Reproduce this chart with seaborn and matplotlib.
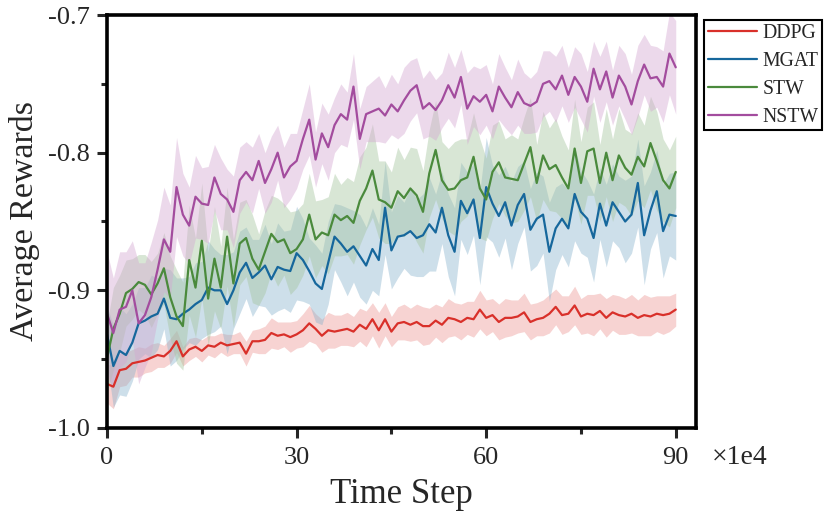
import numpy as np
import pandas as pd
import matplotlib
matplotlib.use('Agg')
import matplotlib.pyplot as plt
import seaborn as sns
from matplotlib.ticker import MultipleLocator

# time step in units of 1e4, one point per 1e4 steps
steps = np.arange(0, 91)

ddpg = [-0.968, -0.970, -0.958, -0.957, -0.953, -0.952, -0.951, -0.949, -0.947, -0.948, -0.944,
        -0.937, -0.948, -0.943, -0.941, -0.944, -0.940, -0.941, -0.938, -0.940, -0.939,
        -0.938, -0.946, -0.937, -0.937, -0.936, -0.931, -0.933, -0.932, -0.934, -0.932,
        -0.929, -0.924, -0.928, -0.933, -0.929, -0.930, -0.929, -0.928, -0.930, -0.925,
        -0.928, -0.921, -0.929, -0.921, -0.930, -0.924, -0.923, -0.925, -0.923, -0.926,
        -0.926, -0.922, -0.925, -0.920, -0.921, -0.923, -0.920, -0.921, -0.914, -0.920,
        -0.918, -0.923, -0.920, -0.920, -0.919, -0.916, -0.923, -0.921, -0.920, -0.917,
        -0.912, -0.918, -0.917, -0.911, -0.919, -0.917, -0.918, -0.915, -0.920, -0.916,
        -0.918, -0.919, -0.917, -0.920, -0.918, -0.919, -0.917, -0.918, -0.917, -0.914]

mgat = [-0.932, -0.955, -0.944, -0.947, -0.938, -0.924, -0.922, -0.919, -0.917, -0.906, -0.920,
        -0.921, -0.917, -0.914, -0.910, -0.907, -0.898, -0.900, -0.900, -0.910, -0.900,
        -0.887, -0.880, -0.891, -0.887, -0.882, -0.892, -0.883, -0.885, -0.886, -0.873,
        -0.878, -0.886, -0.895, -0.899, -0.880, -0.861, -0.866, -0.872, -0.868, -0.875,
        -0.882, -0.870, -0.878, -0.840, -0.871, -0.861, -0.860, -0.857, -0.862, -0.860,
        -0.852, -0.858, -0.840, -0.860, -0.872, -0.835, -0.844, -0.834, -0.862, -0.825,
        -0.837, -0.846, -0.836, -0.853, -0.838, -0.830, -0.856, -0.848, -0.845, -0.872,
        -0.855, -0.848, -0.855, -0.830, -0.843, -0.848, -0.862, -0.837, -0.853, -0.836,
        -0.843, -0.850, -0.845, -0.822, -0.860, -0.842, -0.828, -0.857, -0.845, -0.846]

stw = [-0.949, -0.928, -0.917, -0.902, -0.899, -0.894, -0.896, -0.903, -0.895, -0.884, -0.905,
       -0.919, -0.926, -0.878, -0.898, -0.864, -0.906, -0.877, -0.898, -0.861, -0.895,
       -0.866, -0.862, -0.877, -0.885, -0.872, -0.859, -0.865, -0.863, -0.873, -0.870,
       -0.863, -0.845, -0.863, -0.858, -0.860, -0.845, -0.849, -0.846, -0.851, -0.835,
       -0.826, -0.813, -0.834, -0.836, -0.840, -0.828, -0.833, -0.826, -0.831, -0.843,
       -0.815, -0.798, -0.820, -0.827, -0.826, -0.820, -0.818, -0.803, -0.826, -0.834,
       -0.814, -0.807, -0.818, -0.819, -0.820, -0.808, -0.796, -0.822, -0.802, -0.812,
       -0.809, -0.818, -0.826, -0.797, -0.822, -0.799, -0.797, -0.822, -0.800, -0.820,
       -0.802, -0.811, -0.816, -0.803, -0.810, -0.793, -0.806, -0.820, -0.826, -0.814]

nstw = [-0.917, -0.931, -0.914, -0.912, -0.900, -0.924, -0.918, -0.905, -0.885, -0.863, -0.872,
        -0.825, -0.845, -0.853, -0.832, -0.837, -0.838, -0.818, -0.830, -0.834, -0.843,
        -0.820, -0.814, -0.820, -0.806, -0.822, -0.812, -0.800, -0.818, -0.810, -0.806,
        -0.790, -0.776, -0.805, -0.786, -0.796, -0.780, -0.772, -0.776, -0.752, -0.790,
        -0.772, -0.770, -0.768, -0.773, -0.765, -0.770, -0.762, -0.755, -0.751, -0.768,
        -0.764, -0.769, -0.762, -0.751, -0.760, -0.745, -0.768, -0.759, -0.763, -0.758,
        -0.770, -0.752, -0.760, -0.767, -0.756, -0.764, -0.766, -0.763, -0.750, -0.748,
        -0.754, -0.744, -0.758, -0.745, -0.752, -0.763, -0.739, -0.754, -0.741, -0.760,
        -0.744, -0.752, -0.765, -0.748, -0.736, -0.746, -0.745, -0.752, -0.728, -0.738]

# half width of the shaded band
ddpg_sd = [0.014, 0.016, 0.012, 0.012, 0.010, 0.011, 0.009, 0.010, 0.009, 0.008, 0.009,
           0.008, 0.007, 0.008, 0.007, 0.008, 0.007, 0.008, 0.007, 0.008, 0.007,
           0.008, 0.009, 0.008, 0.009, 0.010, 0.011, 0.010, 0.009, 0.011, 0.010,
           0.012, 0.013, 0.011, 0.012, 0.013, 0.012, 0.011, 0.012, 0.011, 0.012,
           0.013, 0.012, 0.013, 0.012, 0.011, 0.012, 0.013, 0.012, 0.013, 0.014,
           0.013, 0.012, 0.013, 0.014, 0.012, 0.013, 0.012, 0.013, 0.014, 0.013,
           0.012, 0.013, 0.014, 0.013, 0.012, 0.014, 0.013, 0.012, 0.013, 0.014,
           0.013, 0.014, 0.013, 0.014, 0.013, 0.014, 0.015, 0.013, 0.014, 0.013,
           0.014, 0.013, 0.014, 0.013, 0.015, 0.014, 0.013, 0.014, 0.013, 0.012]

mgat_sd = [0.020, 0.030, 0.032, 0.030, 0.028, 0.026, 0.024, 0.030, 0.026, 0.022, 0.035,
           0.030, 0.026, 0.024, 0.030, 0.028, 0.034, 0.030, 0.026, 0.036, 0.028,
           0.030, 0.026, 0.028, 0.024, 0.030, 0.026, 0.032, 0.028, 0.030, 0.034,
           0.030, 0.024, 0.028, 0.026, 0.030, 0.024, 0.028, 0.032, 0.026, 0.030,
           0.028, 0.030, 0.026, 0.034, 0.028, 0.030, 0.024, 0.032, 0.028, 0.030,
           0.034, 0.028, 0.026, 0.030, 0.032, 0.028, 0.030, 0.026, 0.034, 0.036,
           0.028, 0.030, 0.026, 0.032, 0.028, 0.024, 0.030, 0.034, 0.028, 0.036,
           0.030, 0.026, 0.028, 0.034, 0.030, 0.028, 0.032, 0.026, 0.030, 0.028,
           0.026, 0.030, 0.028, 0.032, 0.036, 0.028, 0.030, 0.034, 0.030, 0.032]

stw_sd = [0.025, 0.030, 0.028, 0.024, 0.022, 0.020, 0.022, 0.024, 0.022, 0.026, 0.030,
          0.034, 0.032, 0.040, 0.036, 0.042, 0.034, 0.038, 0.030, 0.036, 0.032,
          0.030, 0.028, 0.032, 0.026, 0.030, 0.028, 0.032, 0.026, 0.030, 0.028,
          0.026, 0.030, 0.028, 0.024, 0.028, 0.030, 0.026, 0.028, 0.030, 0.032,
          0.030, 0.034, 0.028, 0.030, 0.026, 0.032, 0.028, 0.030, 0.034, 0.030,
          0.032, 0.036, 0.028, 0.030, 0.034, 0.030, 0.028, 0.032, 0.036, 0.030,
          0.034, 0.030, 0.028, 0.032, 0.030, 0.034, 0.036, 0.028, 0.032, 0.030,
          0.034, 0.030, 0.028, 0.036, 0.030, 0.032, 0.034, 0.028, 0.032, 0.030,
          0.034, 0.028, 0.030, 0.032, 0.030, 0.034, 0.036, 0.030, 0.028, 0.026]

nstw_sd = [0.045, 0.040, 0.042, 0.040, 0.036, 0.044, 0.038, 0.040, 0.036, 0.038, 0.034,
           0.036, 0.030, 0.028, 0.030, 0.026, 0.028, 0.024, 0.026, 0.022, 0.026,
           0.024, 0.022, 0.024, 0.020, 0.022, 0.024, 0.020, 0.022, 0.024, 0.020,
           0.022, 0.026, 0.020, 0.022, 0.024, 0.020, 0.022, 0.020, 0.024, 0.022,
           0.020, 0.022, 0.024, 0.020, 0.022, 0.020, 0.024, 0.022, 0.020, 0.022,
           0.024, 0.022, 0.020, 0.024, 0.022, 0.020, 0.026, 0.022, 0.024, 0.022,
           0.020, 0.024, 0.022, 0.020, 0.024, 0.022, 0.020, 0.022, 0.024, 0.022,
           0.024, 0.022, 0.020, 0.022, 0.024, 0.022, 0.020, 0.024, 0.022, 0.020,
           0.022, 0.024, 0.022, 0.026, 0.022, 0.024, 0.022, 0.026, 0.030, 0.034]

methods = ['DDPG', 'MGAT', 'STW', 'NSTW']
colors = ['#d9302a', '#16679c', '#4a8a3c', '#a34c9e']
band_colors = ['#ec9794', '#8ab3cd', '#a4c49d', '#d4a6d1']
means = {'DDPG': ddpg, 'MGAT': mgat, 'STW': stw, 'NSTW': nstw}
spreads = {'DDPG': ddpg_sd, 'MGAT': mgat_sd, 'STW': stw_sd, 'NSTW': nstw_sd}

sns.set_style('ticks')
plt.rcParams['font.family'] = ['Liberation Serif', 'DejaVu Serif']

fig = plt.figure(figsize=(8.31, 5.25), dpi=100)
ax = fig.add_axes([0.1288, 0.1848, 0.7087, 0.7866])

# line first, then its band, so later bands wash over earlier lines
for m, c, bc in zip(methods, colors, band_colors):
    d = pd.DataFrame({'step': steps, 'reward': means[m]})
    sns.lineplot(data=d, x='step', y='reward', color=c, linewidth=1.6,
                 label=m, errorbar=None, ax=ax)
    mu = np.array(means[m])
    sd = np.array(spreads[m])
    ax.fill_between(steps, mu - sd, mu + sd, color=bc, alpha=0.42, linewidth=0)

ax.set_xlim(0, 93.2)
ax.set_ylim(-1.0, -0.7)
ax.set_xticks([0, 30, 60, 90])
ax.set_yticks([-1.0, -0.9, -0.8, -0.7])
ax.set_yticklabels(['-1.0', '-0.9', '-0.8', '-0.7'])
ax.xaxis.set_minor_locator(MultipleLocator(15))
ax.yaxis.set_minor_locator(MultipleLocator(0.05))
ax.tick_params(which='major', direction='out', length=7, width=2.2, labelsize=19)
ax.tick_params(axis='x', which='major', pad=7)
ax.tick_params(axis='y', which='major', pad=5)
ax.tick_params(which='minor', direction='out', length=4, width=2.2)
for s in ax.spines.values():
    s.set_visible(True)
    s.set_linewidth(2.6)
    s.set_color('black')

ax.set_xlabel('Time Step', fontsize=25, labelpad=6)
ax.set_ylabel('Average Rewards', fontsize=24.5, labelpad=6)
fig.text(712 / 831, 1 - 458 / 525, '×1e4', fontsize=20, va='center', ha='left')

leg = ax.legend(loc='upper left', bbox_to_anchor=(1.0136, 0.988), borderaxespad=0,
                fontsize=14.2, frameon=True, fancybox=False, edgecolor='black',
                framealpha=1, handlelength=2.5, labelspacing=0.45, borderpad=0.2,
                handletextpad=0.25)
leg.get_frame().set_linewidth(1.5)

fig.savefig('out.png', dpi=100)
